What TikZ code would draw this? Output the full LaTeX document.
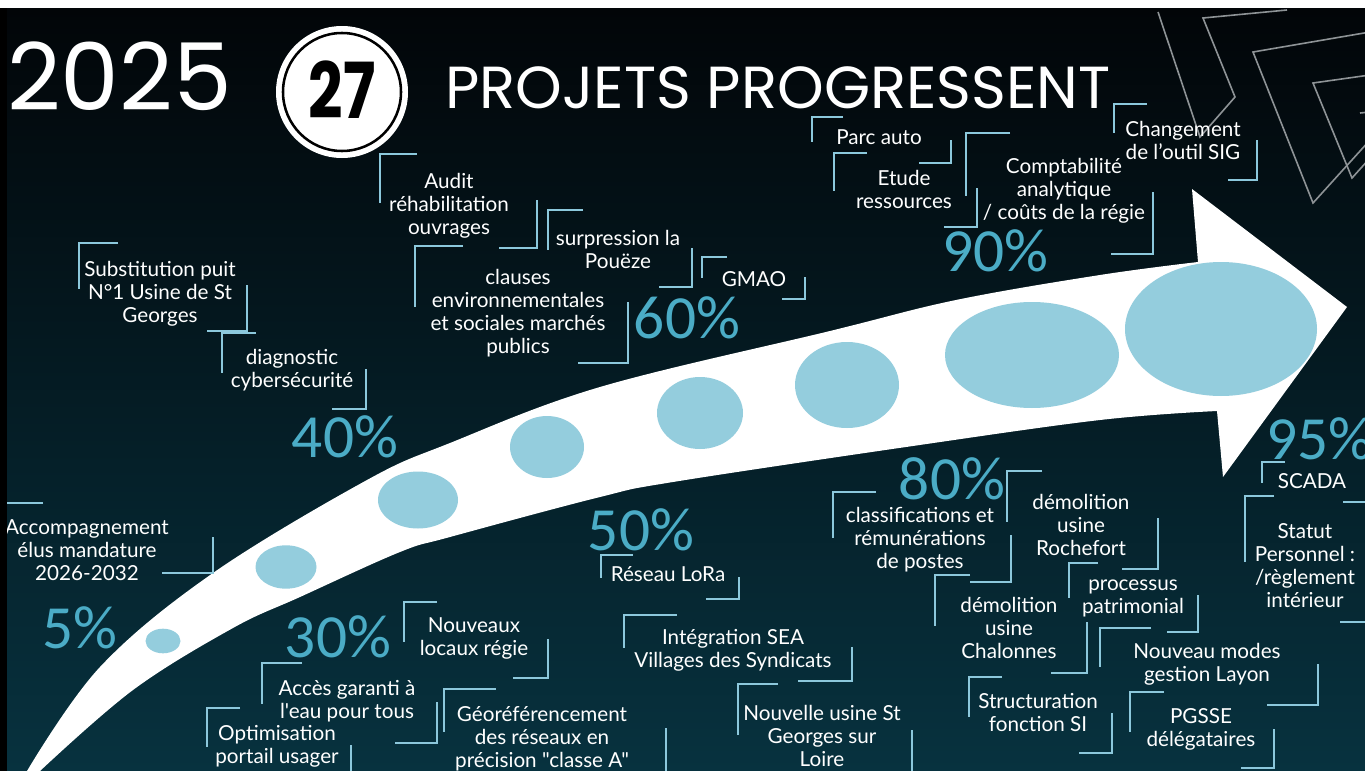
\documentclass[tikz,border=0pt]{standalone}
\usepackage{fontspec}
\setmainfont{Lato}[Ligatures=TeXOff]
\newfontfamily\titlefont{Poppins}
\newfontfamily\pctfont{Carlito}
\definecolor{pctblue}{HTML}{4BACC6}
\definecolor{brkblue}{HTML}{8CC8DC}
\definecolor{ellblue}{HTML}{94CDDD}
\definecolor{bgtop}{HTML}{020508}
\definecolor{bgmid}{HTML}{04161E}
\definecolor{bgbot}{HTML}{07323F}
\definecolor{decogray}{HTML}{8E9396}
\tikzset{
  lbl/.style={text=white, align=center, inner sep=0pt, font=\fontsize{15.5}{17.25}\selectfont},
  pct/.style={text=pctblue, inner sep=0pt, font=\pctfont\fontsize{46}{46}\selectfont},
  brk/.style={draw=brkblue, line width=1.3pt},
  deco/.style={draw=decogray, line width=1.2pt, line join=miter},
  ell/.style={fill=ellblue}
}
\begin{document}
\begin{tikzpicture}[x=0.75pt,y=-0.75pt]
\useasboundingbox (0,0) rectangle (1365,771);
\fill[white] (0,0) rectangle (1365,771);
\fill[black] (0,8) rectangle (7,771);
\begin{scope}
\clip (7,8) rectangle (1365,771);
\shade[top color=bgtop, middle color=bgmid, bottom color=bgbot] (7,8) rectangle (1365,771);

% decoration top right
\draw[deco] (1287,10) -- (1203,18) -- (1235,97) -- (1200,137) -- (1158,12);
\draw[deco] (1370,32) -- (1253,52) -- (1313,203) -- (1370,140);
\draw[deco] (1370,75) -- (1313,83) -- (1352,178) -- (1370,158);
\draw[deco] (1370,112) -- (1360,113);

% arrow
\fill[white] plot[smooth, tension=0.6] coordinates {(27,771) (100,667) (213,573) (367,480) (450,443) (600,387) (830,331) (956,300) (1100,275) (1198,262)}
  -- (1192,189) -- (1347,307) -- (1223,477)
  -- plot[smooth, tension=0.6] coordinates {(1217,411) (1100,420) (906,447) (673,482) (600,497) (450,537) (400,552) (300,597) (233,628) (133,690) (40,771)} -- cycle;

% ellipses
\fill[ell] (163,641) ellipse [x radius=17.5, y radius=12.3];
\fill[ell] (286,567) ellipse [x radius=30.5, y radius=21.7];
\fill[ell] (418,500) ellipse [x radius=40, y radius=28.5];
\fill[ell] (547,447) ellipse [x radius=37, y radius=31];
\fill[ell] (700,413) ellipse [x radius=43, y radius=36];
\fill[ell] (847,385) ellipse [x radius=52, y radius=43];
\fill[ell] (1032,355) ellipse [x radius=87, y radius=53];
\fill[ell] (1221,329) ellipse [x radius=96, y radius=67];

% title
\node[anchor=base west, inner sep=0pt, text=white, font=\titlefont\fontsize{70}{70}\selectfont] (year) at (7,110) {2025};
\fill[white] (342,92) circle [radius=66];
\draw[black, line width=1.9pt] (342,92) circle [radius=59];
\node[inner sep=0pt, text=black, font=\titlefont\bfseries\fontsize{58}{58}\selectfont] (num) at (342,90) {\scalebox{0.78}[1]{27}};
\node[anchor=base west, inner sep=0pt, text=white, font=\titlefont\fontsize{44.5}{44.5}\selectfont] (title) at (445,108) {PROJETS PROGRESSENT};

% percentages
\node[pct] (p5) at (80,628) {5\%};
\node[pct] (p30) at (338,637) {30\%};
\node[pct] (p40) at (345,437) {40\%};
\node[pct] (p50) at (641,530) {50\%};
\node[pct] (p60) at (687,318) {60\%};
\node[pct] (p80) at (952,479) {80\%};
\node[pct] (p90) at (995,251) {90\%};
\node[pct, anchor=west] (p95) at (1266,439) {95\%};

% labels
\node[lbl] (subst) at (160,294) {Substitution puit\\N°1 Usine de St\\Georges};
\draw[brk] (118,243) -- (79,243) -- (79,289);
\draw[brk] (247,285) -- (247,331) -- (207,331);

\node[lbl] (diag) at (292,370) {diagnostic\\cybersécurité};
\draw[brk] (256,333) -- (222,333) -- (222,373);
\draw[brk] (366,369) -- (366,409) -- (332,409);

\node[lbl] (audit) at (449,206) {Audit\\réhabilitation\\ouvrages};
\draw[brk] (417,154) -- (380,154) -- (380,203);
\draw[brk] (537,200) -- (537,248) -- (499,248);

\node[lbl] (surp) at (618,249) {surpression la\\Pouëze};
\draw[brk] (583,210) -- (548,210) -- (548,250);
\draw[brk] (692,248) -- (692,287) -- (659,287);

\node[lbl] (gmao) at (754,279) {GMAO};
\draw[brk] (727,257) -- (702,257) -- (702,278);
\draw[brk] (805,277) -- (805,299) -- (782,299);

\node[lbl] (clauses) at (518,313) {clauses\\environnementales\\et sociales marchés\\publics};
\draw[brk] (463,246) -- (415,246) -- (415,307);
\draw[brk] (628,302) -- (628,363) -- (578,363);

\node[lbl] (parc) at (879,137) {Parc auto};
\draw[brk] (843,117) -- (812,117) -- (812,142);
\draw[brk] (951,140) -- (951,163) -- (919,163);

\node[lbl] (etude) at (904,189) {Etude\\ressources};
\draw[brk] (867,153) -- (834,153) -- (834,191);
\draw[brk] (977,188) -- (977,227) -- (944,227);

\node[lbl] (compta) at (1064,191) {Comptabilité\\analytique\\/ coûts de la régie};
\draw[brk] (1010,133) -- (966,133) -- (966,196);
\draw[brk] (1153,192) -- (1153,254) -- (1111,254);

\node[lbl] (sig) at (1183,140) {Changement\\de l’outil SIG};
\draw[brk] (1147,104) -- (1114,104) -- (1114,133);
\draw[brk] (1257,140) -- (1257,180) -- (1228,180);

\node[lbl] (accomp) at (87,550) {Accompagnement\\élus mandature\\2026-2032};
\draw[brk] (43,503) -- (4,503) -- (4,540);
\draw[brk] (213,537) -- (213,573) -- (162,573);

\node[lbl] (locaux) at (474,638) {Nouveaux\\locaux régie};
\draw[brk] (437,602) -- (404,602) -- (404,642);
\draw[brk] (548,639) -- (548,678) -- (513,678);

\node[lbl] (acces) at (347,701) {Accès garanti à\\l'eau pour tous};
\draw[brk] (302,663) -- (262,663) -- (262,704);
\draw[brk] (437,702) -- (437,743) -- (395,743);

\node[lbl] (optim) at (277,746) {Optimisation\\portail usager};
\draw[brk] (240,708) -- (207,708) -- (207,747);
\draw[brk] (351,745) -- (351,780);

\node[lbl] (georef) at (542,739) {Géoréférencement\\des réseaux en\\précision "classe A"};
\draw[brk] (496,689) -- (444,689) -- (444,732);
\draw[brk] (666,728) -- (666,780);

\node[lbl] (lora) at (668,574) {Réseau LoRa};
\draw[brk] (633,555) -- (601,555) -- (601,578);
\draw[brk] (739,577) -- (739,599) -- (706,599);

\node[lbl] (sea) at (733,650) {Intégration SEA\\Villages des Syndicats};
\draw[brk] (677,615) -- (624,615) -- (624,648);
\draw[brk] (852,647) -- (852,681) -- (798,681);

\node[lbl] (usine) at (822,736) {Nouvelle usine St\\Georges sur\\Loire};
\draw[brk] (778,684) -- (738,684) -- (738,735);
\draw[brk] (912,730) -- (912,780);

\node[lbl] (classif) at (920,540) {classifications et\\rémunérations\\de postes};
\draw[brk] (876,492) -- (833,492) -- (833,538);
\draw[brk] (1011,535) -- (1011,582) -- (970,582);

\node[lbl] (roch) at (1081,525) {démolition\\usine\\Rochefort};
\draw[brk] (1042,471) -- (1007,471) -- (1007,522);
\draw[brk] (1158,518) -- (1158,569) -- (1122,569);

\node[lbl] (chal) at (1009,628) {démolition\\usine\\Chalonnes};
\draw[brk] (970,575) -- (935,575) -- (935,626);
\draw[brk] (1087,622) -- (1087,673) -- (1051,673);

\node[lbl] (patri) at (1133,598) {processus\\patrimonial};
\draw[brk] (1098,563) -- (1069,563) -- (1069,598);
\draw[brk] (1198,595) -- (1198,632) -- (1167,632);

\node[lbl] (layon) at (1207,664) {Nouveau modes\\gestion Layon};
\draw[brk] (1151,628) -- (1100,628) -- (1100,667);
\draw[brk] (1318,664) -- (1318,705) -- (1267,705);

\node[lbl] (si) at (1038,713) {Structuration\\fonction SI};
\draw[brk] (1002,677) -- (969,677) -- (969,717);
\draw[brk] (1112,713) -- (1112,753) -- (1079,753);

\node[lbl] (pgsse) at (1201,729) {PGSSE\\délégataires};
\draw[brk] (1164,692) -- (1130,692) -- (1130,732);
\draw[brk] (1274,729) -- (1274,768) -- (1241,768);

\node[lbl] (scada) at (1312,481) {SCADA};
\draw[brk] (1285,462) -- (1262,462) -- (1262,483);
\draw[brk] (1343,502) -- (1370,502);

\node[lbl] (statut) at (1305,566) {Statut\\Personnel :\\/règlement\\intérieur};
\draw[brk] (1274,496) -- (1245,496) -- (1245,562);
\draw[brk] (1340,622) -- (1370,622);
\end{scope}
\end{tikzpicture}
\end{document}
